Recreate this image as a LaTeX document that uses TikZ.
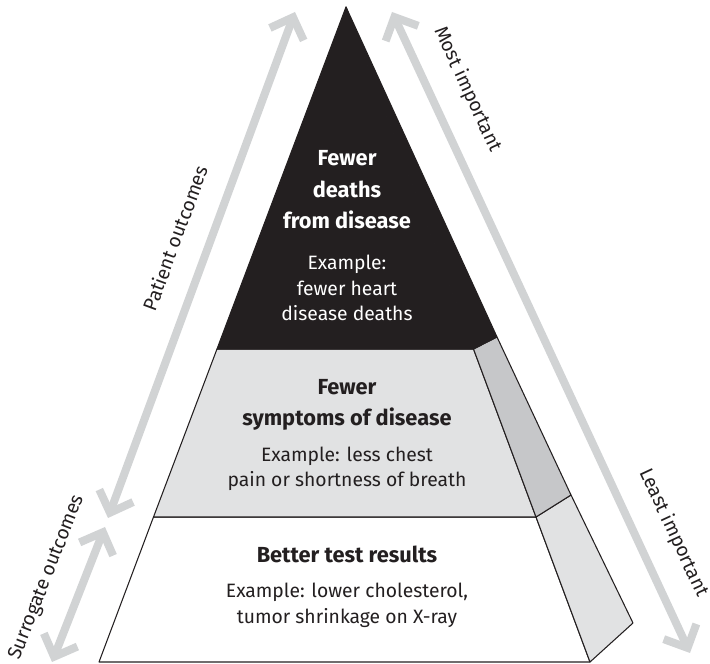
\documentclass[tikz,border=0pt]{standalone}
\usepackage{fontspec}
\setmainfont{Fira Sans}
\usetikzlibrary{positioning,arrows.meta}
\definecolor{ink}{HTML}{231F20}
\definecolor{scalegray}{HTML}{D1D3D4}
\definecolor{paleface}{HTML}{E1E2E3}
\definecolor{sideface}{HTML}{C6C7C9}
\tikzset{
  tier/.style={draw=ink, line width=0.6pt, line join=round},
  barb/.tip={Straight Barb[length=0.36cm, width=0.72cm, line cap=butt, line join=miter]},
  scalearrow/.style={draw=scalegray, line width=0.16cm, barb-barb},
  headline/.style={font=\bfseries\fontsize{12.4}{18}\selectfont, align=center},
  example/.style={font=\fontsize{11}{14.5}\selectfont, align=center},
  scalelabel/.style={font=\fontsize{11}{13}\selectfont, text=ink, sloped, above=0.33cm},
}
\begin{document}
\begin{tikzpicture}
\useasboundingbox (0,0) rectangle (14.2,13.28);
% pyramid corners
\coordinate (apex) at (6.92,13.14);
\coordinate (fl) at (1.98,0.04);
\coordinate (fr) at (11.80,0.04);
\coordinate (bk) at (12.66,0.82);
% tier boundaries
\coordinate (tl1) at (4.34,6.30);
\coordinate (tr1) at (9.47,6.30);
\coordinate (tb1) at (9.94,6.54);
\coordinate (tl2) at (3.07,2.94);
\coordinate (tr2) at (10.72,2.94);
\coordinate (tb2) at (11.42,3.38);
% tiers, bottom to top
\filldraw[tier, fill=white] (tl2) -- (fl) -- (fr) -- (tr2) -- cycle;
\filldraw[tier, fill=paleface] (tr2) -- (fr) -- (bk) -- (tb2) -- cycle;
\filldraw[tier, fill=paleface] (tl1) -- (tl2) -- (tr2) -- (tr1) -- cycle;
\filldraw[tier, fill=sideface] (tr1) -- (tr2) -- (tb2) -- (tb1) -- cycle;
\filldraw[tier, fill=ink] (apex) -- (tl1) -- (tr1) -- cycle;
\filldraw[tier, fill=ink] (apex) -- (tr1) -- (tb1) -- cycle;
% texts
\node[headline, text=white] (deaths) at (6.94,9.48) {Fewer\\deaths\\from disease};
\node[example, text=white] (deathsex) at (6.94,7.52) {Example:\\fewer heart\\disease deaths};
\node[headline, text=ink] (symptoms) at (6.94,5.18) {Fewer\\symptoms of disease};
\node[example, text=ink] (symptomsex) at (6.94,3.90) {Example: less chest\\pain or shortness of breath};
\node[headline, text=ink] (tests) at (6.94,2.20) {Better test results};
\node[example, text=ink] (testsex) at (6.94,1.17) {Example: lower cholesterol,\\tumor shrinkage on X-ray};
% scales
\coordinate (pbot) at (2.16,2.92);
\coordinate (ptop) at (5.90,13.04);
\coordinate (sbot) at (1.04,0.04);
\coordinate (stop) at (2.10,2.74);
\coordinate (itop) at (7.84,13.04);
\coordinate (ibot) at (13.80,0.22);
\draw[scalearrow] (pbot) -- node[scalelabel, pos=0.53] (patient) {Patient outcomes} (ptop);
\draw[scalearrow] (sbot) -- node[scalelabel, pos=0.53] (surrogate) {Surrogate outcomes} (stop);
\draw[scalearrow] (itop) -- node[scalelabel, pos=0.144] (most) {Most important}
  node[scalelabel, pos=0.836] (least) {Least important} (ibot);
\end{tikzpicture}
\end{document}
